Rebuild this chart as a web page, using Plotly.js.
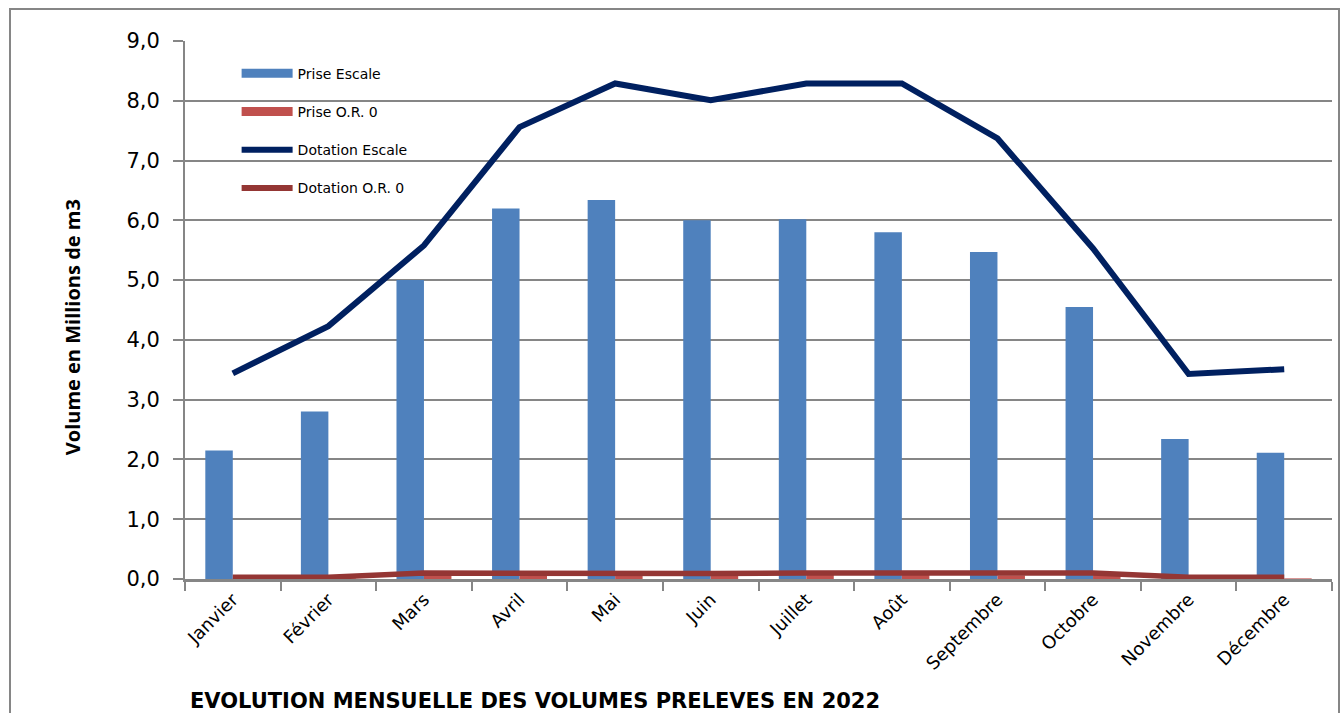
<!DOCTYPE html>
<html>
<head>
<meta charset="utf-8">
<script src="https://cdn.plot.ly/plotly-3.0.1.min.js"></script>
<style>
  html, body { margin: 0; padding: 0; background: #fff; overflow: hidden; }
  #chart { position: absolute; left: 0; top: 0; width: 1341px; height: 713px; }
  #frame { position: absolute; left: 9px; top: 8px; width: 1327px; height: 740px; border: 2px solid #868686; pointer-events: none; }
</style>
</head>
<body>
<div id="chart"></div>
<div id="frame"></div>
<script>
const months = ["Janvier", "Février", "Mars", "Avril", "Mai", "Juin", "Juillet", "Août", "Septembre", "Octobre", "Novembre", "Décembre"];
const priseEscale = [2.15, 2.80, 5.00, 6.20, 6.34, 6.00, 6.02, 5.80, 5.47, 4.55, 2.34, 2.11];
const priseOR0 = [0.01, 0.01, 0.06, 0.06, 0.07, 0.06, 0.07, 0.07, 0.06, 0.07, 0.01, 0.01];
const dotationEscale = [3.44, 4.23, 5.58, 7.56, 8.29, 8.01, 8.29, 8.29, 7.37, 5.53, 3.43, 3.51];
const dotationOR0 = [0.03, 0.03, 0.10, 0.09, 0.10, 0.09, 0.10, 0.10, 0.09, 0.10, 0.03, 0.03];
const yTicks = [0, 1, 2, 3, 4, 5, 6, 7, 8, 9];

const cBlue = "#4F81BD", cRed = "#C0504D", cNavy = "#002060", cDarkRed = "#943634";

const traces = [
  { type: "bar", x: months, y: priseEscale, name: "Prise Escale", marker: { color: cBlue }, showlegend: false },
  { type: "bar", x: months, y: priseOR0, name: "Prise O.R. 0", marker: { color: cRed }, showlegend: false },
  { type: "scatter", mode: "lines", x: months, y: dotationOR0, name: "Dotation O.R. 0", line: { color: cDarkRed, width: 5.5 }, showlegend: false },
  { type: "scatter", mode: "lines", x: months, y: dotationEscale, name: "Dotation Escale", line: { color: cNavy, width: 6 }, showlegend: false },
  // legend entries
  { type: "scatter", mode: "lines", x: [null], y: [null], name: "Prise Escale", line: { color: cBlue, width: 9 }, legendgroup: "a" },
  { type: "scatter", mode: "lines", x: [null], y: [null], name: "Prise O.R. 0", line: { color: cRed, width: 9 }, legendgroup: "b" },
  { type: "scatter", mode: "lines", x: [null], y: [null], name: "Dotation Escale", line: { color: cNavy, width: 6 }, legendgroup: "c" },
  { type: "scatter", mode: "lines", x: [null], y: [null], name: "Dotation O.R. 0", line: { color: cDarkRed, width: 6 }, legendgroup: "d" }
];

const layout = {
  width: 1341, height: 713,
  margin: { l: 185, r: 9, t: 41, b: 134 },
  paper_bgcolor: "#ffffff", plot_bgcolor: "#ffffff",
  separators: ", ",
  barmode: "group", bargap: 0.425, bargroupgap: 0,
  font: { family: "DejaVu Sans", color: "#000000" },
  title: {
    text: "<b>EVOLUTION MENSUELLE DES VOLUMES PRELEVES EN 2022</b>",
    font: { family: "DejaVu Sans", size: 21, color: "#000000" },
    xref: "container", yref: "container", x: 0.1417, xanchor: "left", y: 0.018, yanchor: "middle"
  },
  xaxis: {
    type: "category",
    tickson: "boundaries",
    ticks: "outside", ticklen: 9, tickwidth: 2, tickcolor: "#868686",
    showline: true, linecolor: "#868686", linewidth: 3,
    showgrid: false,
    tickangle: -45,
    tickfont: { family: "DejaVu Sans", size: 18, color: "#000000" },
    range: [-0.5, 11.5]
  },
  yaxis: {
    range: [0, 9],
    tickvals: yTicks,
    tickformat: ".1f",
    ticks: "outside", ticklen: 10, tickwidth: 2, tickcolor: "#868686",
    ticklabelstandoff: 9,
    showline: true, linecolor: "#868686", linewidth: 2,
    showgrid: true, gridcolor: "#868686", gridwidth: 2,
    zeroline: false,
    tickfont: { family: "DejaVu Sans", size: 21, color: "#000000" }
  },
  annotations: [{
    text: "<b>Volume en Millions de m3</b>",
    xref: "paper", yref: "paper", x: -0.0985, y: 0.468,
    xanchor: "center", yanchor: "middle", textangle: -90, showarrow: false,
    font: { family: "Open Sans", size: 20, color: "#000000" }
  }],
  legend: {
    x: 0.045, xanchor: "left", y: 0.969, yanchor: "top",
    bgcolor: "rgba(0,0,0,0)",
    font: { family: "DejaVu Sans", size: 14, color: "#000000" },
    itemwidth: 51,
    traceorder: "grouped", tracegroupgap: 17
  },
  showlegend: true
};

Plotly.newPlot("chart", traces, layout, { displayModeBar: false, staticPlot: true });
</script>
</body>
</html>
